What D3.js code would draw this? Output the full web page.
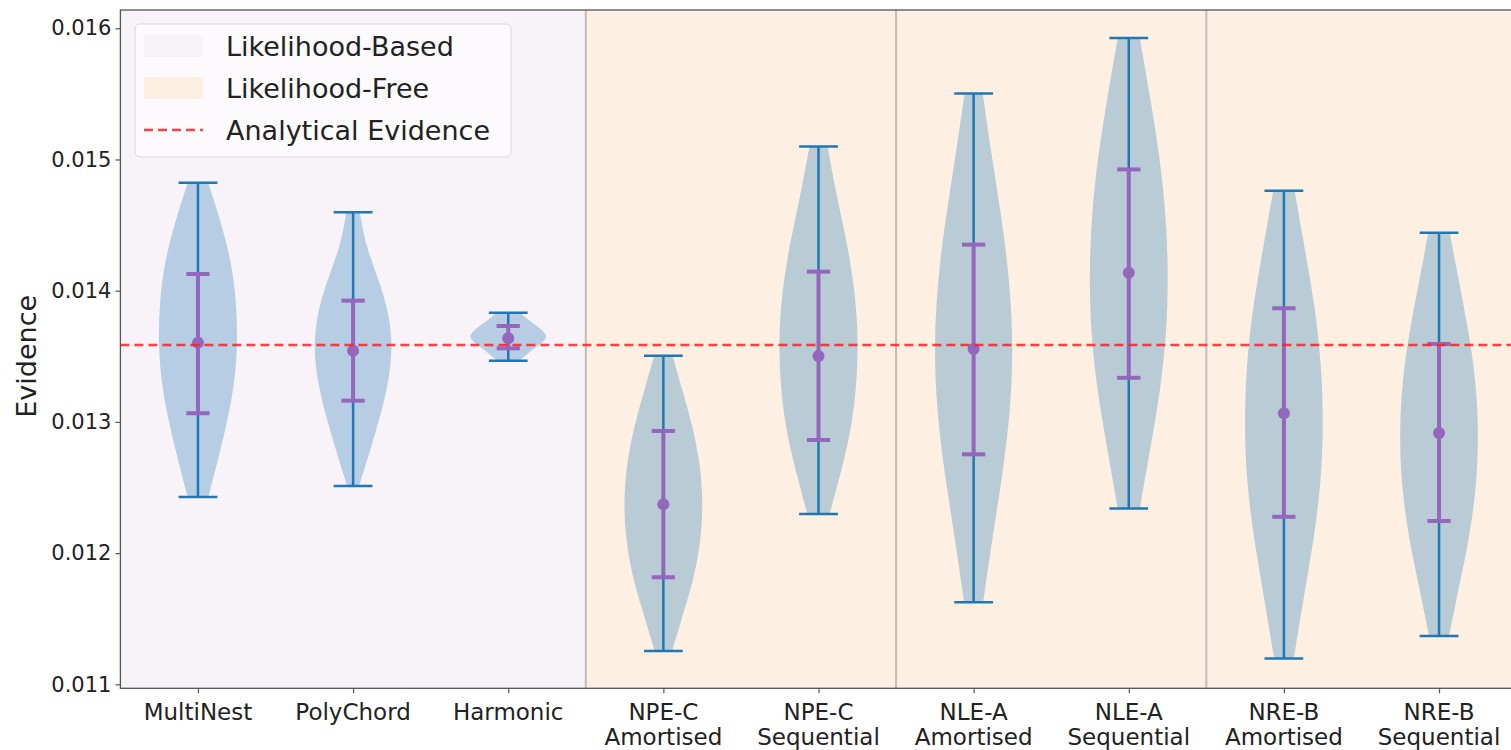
<!DOCTYPE html>
<html>
<head>
<meta charset="utf-8">
<script src="https://cdn.jsdelivr.net/npm/d3@7"></script>
<style>
  body { margin: 0; background: #fff; }
  svg { display: block; font-family: "DejaVu Sans", sans-serif; }
</style>
</head>
<body>
<script>
// categories (two-line tick labels)
const methodNames = ["MultiNest", "PolyChord", "Harmonic", "NPE-C", "NPE-C", "NLE-A", "NLE-A", "NRE-B", "NRE-B"];
const methodModes = ["", "", "", "Amortised", "Sequential", "Amortised", "Sequential", "Amortised", "Sequential"];

// violin extremes
const evidenceMin = [0.012428, 0.012511, 0.013466, 0.011254, 0.012298, 0.011625, 0.012341, 0.011198, 0.011368];
const evidenceMax = [0.014823, 0.014598, 0.013832, 0.013505, 0.015098, 0.015502, 0.015925, 0.014762, 0.014442];

// purple error bars (centre, lower, upper)
const evidenceMean = [0.013604, 0.013543, 0.013637, 0.012372, 0.013502, 0.013556, 0.014137, 0.013066, 0.012915];
const errLow = [0.013066, 0.013162, 0.013561, 0.011816, 0.012862, 0.012753, 0.013336, 0.012277, 0.012245];
const errHigh = [0.014127, 0.013924, 0.013731, 0.012931, 0.014145, 0.014351, 0.014924, 0.013866, 0.013594];

// relative density, read at 9 evenly spaced levels from min (first) to max (last)
const densityProfiles = [
  [0.26, 0.52, 0.76, 0.94, 1.00, 0.97, 0.84, 0.58, 0.26],
  [0.15, 0.42, 0.68, 0.89, 1.00, 0.92, 0.66, 0.32, 0.17],
  [0.27, 0.46, 0.64, 0.86, 1.00, 0.88, 0.68, 0.47, 0.30],
  [0.22, 0.50, 0.78, 0.95, 1.00, 0.94, 0.76, 0.50, 0.23],
  [0.28, 0.60, 0.86, 0.98, 1.00, 0.90, 0.70, 0.44, 0.23],
  [0.24, 0.47, 0.73, 0.93, 1.00, 0.92, 0.72, 0.46, 0.23],
  [0.28, 0.54, 0.80, 0.96, 1.00, 0.94, 0.78, 0.54, 0.28],
  [0.25, 0.49, 0.75, 0.94, 1.00, 0.95, 0.79, 0.53, 0.27],
  [0.25, 0.51, 0.78, 0.95, 1.00, 0.94, 0.76, 0.51, 0.27]
];

const analyticalEvidence = 0.013586;
const yTicks = [0.011, 0.012, 0.013, 0.014, 0.015, 0.016];
const likelihoodBasedCount = 3;
const separators = [3.5, 5.5, 7.5];
const legendLabels = ["Likelihood-Based", "Likelihood-Free", "Analytical Evidence"];

// layout
const width = 1511, height = 750;
const plot = { left: 120.4, right: 1516.6, top: 10, bottom: 688.3 };

const colors = {
  based: "#f8f3f9",
  free: "#fdf0e3",
  violin: "#1f77b4",
  err: "#9467bd",
  ref: "#ff2020"
};

const svg = d3.select("body").append("svg")
    .attr("width", width)
    .attr("height", height);

const x = d3.scaleLinear().domain([0.5, methodNames.length + 0.5]).range([plot.left, plot.right]);
const y = d3.scaleLinear().domain([0.01097, 0.016139]).range([plot.bottom, plot.top]);

// background regions
svg.append("rect")
    .attr("x", x(0.5)).attr("y", plot.top)
    .attr("width", x(likelihoodBasedCount + 0.5) - x(0.5))
    .attr("height", plot.bottom - plot.top)
    .attr("fill", colors.based);
svg.append("rect")
    .attr("x", x(likelihoodBasedCount + 0.5)).attr("y", plot.top)
    .attr("width", x(methodNames.length + 0.5) - x(likelihoodBasedCount + 0.5))
    .attr("height", plot.bottom - plot.top)
    .attr("fill", colors.free);

// group separators
svg.selectAll(".sep")
  .data(separators)
  .enter().append("line")
    .attr("class", "sep")
    .attr("x1", d => x(d)).attr("x2", d => x(d))
    .attr("y1", plot.top).attr("y2", plot.bottom)
    .attr("stroke", "#c4bcb6")
    .attr("stroke-width", 2);

// violins
const violinData = methodNames.map((name, i) => {
  const n = densityProfiles[i].length;
  const pts = densityProfiles[i].map((d, k) => ({
    v: evidenceMin[i] + (evidenceMax[i] - evidenceMin[i]) * k / (n - 1),
    d: d
  }));
  return { i: i, pos: i + 1, pts: pts };
});

const halfWidth = 0.255;
violinData.forEach(vd => {
  const area = d3.area()
    .curve(d3.curveBasis)
    .y(p => y(p.v))
    .x0(p => x(vd.pos - halfWidth * p.d))
    .x1(p => x(vd.pos + halfWidth * p.d));
  svg.append("path")
      .datum(vd.pts)
      .attr("d", area)
      .attr("fill", colors.violin)
      .attr("fill-opacity", 0.3);
});

// violin extrema lines and caps
const capW = 0.125;
const g = svg.append("g").attr("stroke", colors.violin).attr("stroke-width", 2.5);
methodNames.forEach((name, i) => {
  const p = i + 1;
  g.append("line")
      .attr("x1", x(p)).attr("x2", x(p))
      .attr("y1", y(evidenceMin[i])).attr("y2", y(evidenceMax[i]));
  [evidenceMin[i], evidenceMax[i]].forEach(v => {
    g.append("line")
        .attr("x1", x(p - capW)).attr("x2", x(p + capW))
        .attr("y1", y(v)).attr("y2", y(v));
  });
});

// error bars
const errCap = 0.075;
const ge = svg.append("g").attr("stroke", colors.err).attr("stroke-width", 4);
methodNames.forEach((name, i) => {
  const p = i + 1;
  ge.append("line")
      .attr("x1", x(p)).attr("x2", x(p))
      .attr("y1", y(errLow[i])).attr("y2", y(errHigh[i]));
  [errLow[i], errHigh[i]].forEach(v => {
    ge.append("line")
        .attr("x1", x(p - errCap)).attr("x2", x(p + errCap))
        .attr("y1", y(v)).attr("y2", y(v));
  });
});
svg.selectAll(".dot")
  .data(evidenceMean)
  .enter().append("circle")
    .attr("class", "dot")
    .attr("cx", (d, i) => x(i + 1))
    .attr("cy", d => y(d))
    .attr("r", 6)
    .attr("fill", colors.err);

// analytical evidence
svg.append("line")
    .attr("x1", plot.left).attr("x2", plot.right)
    .attr("y1", y(analyticalEvidence)).attr("y2", y(analyticalEvidence))
    .attr("stroke", colors.ref)
    .attr("stroke-opacity", 0.85)
    .attr("stroke-width", 2.6)
    .attr("stroke-dasharray", "9,5");

// spines
svg.append("rect")
    .attr("x", plot.left).attr("y", plot.top)
    .attr("width", plot.right - plot.left)
    .attr("height", plot.bottom - plot.top)
    .attr("fill", "none")
    .attr("stroke", "#555")
    .attr("stroke-width", 1.3);

// y axis
const yAxis = svg.append("g")
    .attr("transform", `translate(${plot.left},0)`)
    .call(d3.axisLeft(y).tickValues(yTicks).tickFormat(d3.format(".3f")).tickSize(5).tickPadding(4));
yAxis.select(".domain").remove();
yAxis.selectAll("line").attr("stroke", "#555").attr("stroke-width", 1.2);
yAxis.selectAll("text")
    .attr("font-size", 21)
    .attr("fill", "#222")
    .attr("font-family", "DejaVu Sans");

svg.append("text")
    .attr("transform", `translate(36, ${(y(0.014) + y(0.013)) / 2}) rotate(-90)`)
    .attr("text-anchor", "middle")
    .attr("font-size", 27)
    .attr("fill", "#222")
    .text("Evidence");

// x axis
const xAxis = svg.append("g")
    .attr("transform", `translate(0,${plot.bottom})`)
    .call(d3.axisBottom(x).tickValues(d3.range(1, methodNames.length + 1)).tickFormat("").tickSize(5));
xAxis.select(".domain").remove();
xAxis.selectAll("line").attr("stroke", "#555").attr("stroke-width", 1.2);

const xl = svg.selectAll(".xlab")
  .data(methodNames)
  .enter().append("text")
    .attr("class", "xlab")
    .attr("text-anchor", "middle")
    .attr("font-size", 23)
    .attr("fill", "#222")
    .attr("x", (d, i) => x(i + 1))
    .attr("y", 720);
xl.append("tspan").attr("x", (d, i) => x(i + 1)).text(d => d);
xl.append("tspan")
    .attr("x", (d, i) => x(i + 1))
    .attr("dy", 25)
    .text((d, i) => methodModes[i]);

// legend
const lg = svg.append("g");
lg.append("rect")
    .attr("x", 135).attr("y", 24)
    .attr("width", 376).attr("height", 133)
    .attr("rx", 5)
    .attr("fill", "#fff").attr("fill-opacity", 0.6)
    .attr("stroke", "#d8d8d8");
const rowY = [46, 88, 130];
lg.append("rect").attr("x", 144).attr("y", rowY[0] - 11).attr("width", 59).attr("height", 22).attr("fill", colors.based);
lg.append("rect").attr("x", 144).attr("y", rowY[1] - 11).attr("width", 59).attr("height", 22).attr("fill", colors.free);
lg.append("line")
    .attr("x1", 144).attr("x2", 203)
    .attr("y1", rowY[2]).attr("y2", rowY[2])
    .attr("stroke", colors.ref).attr("stroke-opacity", 0.85)
    .attr("stroke-width", 2.6).attr("stroke-dasharray", "9,5");
lg.selectAll(".ltext")
  .data(legendLabels)
  .enter().append("text")
    .attr("class", "ltext")
    .attr("x", 226)
    .attr("y", (d, i) => rowY[i] + 10)
    .attr("font-size", 27)
    .attr("fill", "#222")
    .text(d => d);
</script>
</body>
</html>
